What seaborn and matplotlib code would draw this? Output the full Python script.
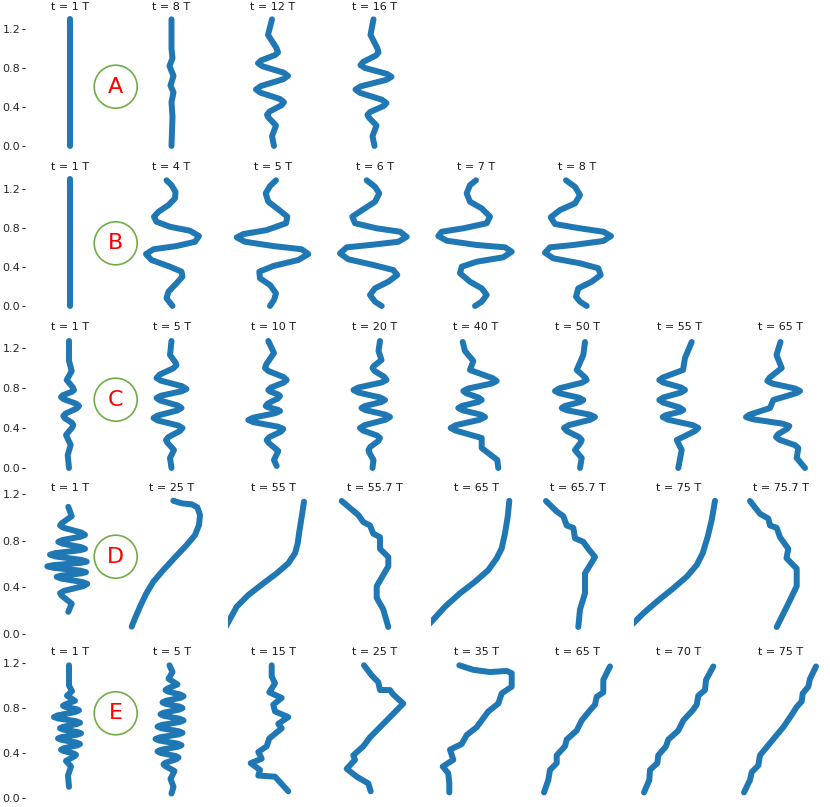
import numpy as np
import seaborn as sns
import matplotlib.pyplot as plt
from matplotlib.patches import Circle

###############################################################
#----------------------------Data------------------------------#
###############################################################
# x = lateral displacement, y = height; one list per snapshot

a_titles = ["t = 1 T", "t = 8 T", "t = 12 T", "t = 16 T"]
a_x = [
    [0.0, 0.0],
    [0.0, 0.0, 0.01, -0.02, 0.02, -0.01, 0.02, 0.0, 0.01, 0.0],
    [-0.01, -0.05, 0.035, 0.05, 0.02, -0.12, -0.15, -0.105, 0.105, 0.15, 0.102, -0.122,
     -0.17, -0.128, 0.068, 0.11, 0.085, -0.035, -0.06, -0.047, 0.03, -0.01, 0.01],
    [-0.01, -0.04, 0.028, 0.04, 0.013, -0.113, -0.14, -0.094, 0.124, 0.17, 0.116, -0.136,
     -0.19, -0.144, 0.074, 0.12, 0.092, -0.042, -0.07, -0.057, 0.02, -0.02, 0.0],
]
a_y = [
    [1.3, 0.0],
    [1.3, 1.0, 0.9, 0.82, 0.72, 0.62, 0.55, 0.45, 0.3, 0.0],
    [1.30, 1.14, 1.005, 0.96, 0.933, 0.878, 0.85, 0.818, 0.753, 0.72, 0.685, 0.615,
     0.58, 0.548, 0.483, 0.45, 0.418, 0.353, 0.32, 0.293, 0.21, 0.10, 0.0],
    [1.30, 1.14, 1.005, 0.96, 0.928, 0.863, 0.83, 0.80, 0.74, 0.71, 0.678, 0.613,
     0.58, 0.545, 0.475, 0.44, 0.41, 0.35, 0.32, 0.293, 0.21, 0.10, 0.0],
]

b_titles = ["t = 1 T", "t = 4 T", "t = 5 T", "t = 6 T", "t = 7 T", "t = 8 T"]
b_x = [
    [0.0, 0.0],
    [-0.05, 0.0, 0.04, 0.035, -0.03, -0.13, -0.175, -0.15, -0.015, 0.185, 0.275, 0.235,
     0.05, -0.18, -0.255, -0.2, -0.015, 0.10, 0.11, 0.05, -0.03, -0.05, 0.01],
    [0.03, -0.03, -0.073, -0.047, 0.053, 0.143, 0.13, -0.063, -0.297, -0.363, -0.28,
     0.003, 0.287, 0.353, 0.253, 0.003, -0.137, -0.13, -0.03, 0.03, 0.01, -0.03],
    [-0.078, 0.005, 0.048, 0.005, -0.112, -0.222, -0.195, 0.022, 0.255, 0.322, 0.238,
     -0.045, -0.278, -0.345, -0.262, -0.012, 0.188, 0.228, 0.138, 0.005, -0.045, 0.005, 0.072],
    [0.0, -0.06, -0.093, -0.06, 0.057, 0.14, 0.107, -0.127, -0.343, -0.377, -0.293,
     0.007, 0.29, 0.357, 0.273, 0.007, -0.143, -0.16, -0.06, 0.057, 0.107, 0.057, -0.01],
    [-0.115, -0.025, 0.025, -0.025, -0.175, -0.268, -0.225, 0.025, 0.258, 0.335, 0.258,
     -0.042, -0.275, -0.325, -0.242, 0.025, 0.208, 0.232, 0.142, 0.008, -0.015, 0.025, 0.092],
]
b_y = [
    [1.3, 0.0],
    [1.29, 1.24, 1.17, 1.105, 1.036, 0.967, 0.916, 0.865, 0.813, 0.772, 0.718, 0.659,
     0.615, 0.582, 0.533, 0.472, 0.403, 0.352, 0.301, 0.233, 0.147, 0.079, 0.0],
    [1.29, 1.231, 1.156, 1.07, 0.992, 0.917, 0.849, 0.779, 0.738, 0.704, 0.659,
     0.615, 0.582, 0.533, 0.472, 0.41, 0.352, 0.284, 0.215, 0.13, 0.062, 0.0],
    [1.29, 1.223, 1.156, 1.07, 0.992, 0.917, 0.849, 0.797, 0.762, 0.71, 0.659,
     0.626, 0.602, 0.54, 0.479, 0.421, 0.369, 0.318, 0.249, 0.181, 0.113, 0.044, 0.0],
    [1.29, 1.241, 1.156, 1.07, 1.002, 0.917, 0.849, 0.797, 0.762, 0.718, 0.67,
     0.626, 0.602, 0.557, 0.5, 0.454, 0.403, 0.336, 0.249, 0.181, 0.113, 0.044, 0.0],
    [1.29, 1.223, 1.138, 1.053, 0.985, 0.91, 0.841, 0.797, 0.762, 0.718, 0.667,
     0.626, 0.602, 0.547, 0.489, 0.438, 0.387, 0.318, 0.249, 0.181, 0.095, 0.044, 0.0],
]

c_titles = ["t = 1 T", "t = 5 T", "t = 10 T", "t = 20 T",
            "t = 40 T", "t = 50 T", "t = 55 T", "t = 65 T"]
c_x = [
    [-0.01, -0.01, 0.017, -0.033, 0.029, 0.04, 0.021, -0.071, -0.09, -0.063, 0.063, 0.09,
     0.067, -0.044, -0.067, -0.052, 0.018, 0.033, 0.022, -0.04, 0.007, -0.023, -0.01],
    [0.0, -0.015, 0.04, 0.05, 0.02, -0.12, -0.15, -0.105, 0.105, 0.15, 0.105, -0.105, -0.15,
     -0.113, 0.063, 0.10, 0.058, -0.138, -0.18, -0.137, 0.067, 0.11, 0.085, -0.03, -0.055,
     -0.043, 0.025, -0.015, 0.0],
    [-0.047, 0.01, -0.067, -0.08, -0.047, 0.104, 0.137, 0.109, -0.019, -0.047, -0.029, 0.052,
     0.07, 0.049, -0.052, -0.073, -0.052, 0.049, 0.07, 0.022, -0.199, -0.247, -0.195, 0.051,
     0.103, 0.078, -0.038, -0.063, -0.046, 0.053, 0.01, 0.037],
    [0.055, 0.04, 0.07, -0.007, -0.02, 0.001, 0.099, 0.12, 0.071, -0.161, -0.21, -0.163, 0.058,
     0.105, 0.07, -0.095, -0.13, -0.087, 0.112, 0.155, 0.11, -0.10, -0.145, -0.115, 0.025,
     0.055, 0.038, -0.043, -0.06, -0.053, -0.01, -0.02],
    [-0.133, -0.11, -0.027, -0.06, 0.167, 0.207, 0.157, -0.077, -0.127, -0.099, 0.029, 0.057,
     0.022, -0.142, -0.177, -0.137, 0.05, 0.09, 0.039, -0.202, -0.253, -0.207, 0.057, 0.057,
     0.213, 0.223],
    [0.075, 0.058, -0.008, 0.077, 0.092, 0.045, -0.178, -0.225, -0.183, 0.016, 0.058, 0.026,
     -0.126, -0.158, -0.108, 0.125, 0.175, 0.129, -0.089, -0.135, -0.108, 0.015, 0.042, 0.032,
     -0.025, 0.042, 0.025],
    [0.127, 0.06, 0.04, -0.161, -0.197, -0.158, 0.021, 0.06, 0.021, -0.158, -0.197, -0.161,
     0.007, 0.043, 0.012, -0.132, -0.163, -0.11, 0.14, 0.193, 0.161, -0.023, 0.027, -0.007],
    [0.0, -0.04, 0.012, -0.11, -0.132, -0.083, 0.146, 0.195, 0.155, -0.072, -0.105, -0.309,
     -0.345, -0.28, 0.023, 0.088, 0.068, -0.025, -0.045, -0.012, 0.145, 0.178, 0.162, 0.245],
]
c_y = [
    [1.27, 1.07, 0.97, 0.88, 0.805, 0.78, 0.763, 0.728, 0.71, 0.688, 0.643, 0.62,
     0.595, 0.545, 0.52, 0.498, 0.453, 0.43, 0.405, 0.33, 0.23, 0.13, 0.0],
    [1.27, 1.13, 1.055, 1.03, 0.998, 0.933, 0.90, 0.873, 0.818, 0.79, 0.768, 0.723, 0.70,
     0.675, 0.625, 0.60, 0.575, 0.525, 0.50, 0.475, 0.425, 0.40, 0.37, 0.31, 0.28,
     0.255, 0.18, 0.10, 0.0],
    [1.27, 1.15, 1.038, 1.00, 0.97, 0.91, 0.88, 0.855, 0.805, 0.78, 0.765, 0.735,
     0.72, 0.695, 0.645, 0.62, 0.608, 0.583, 0.57, 0.548, 0.503, 0.48, 0.458, 0.413,
     0.39, 0.363, 0.308, 0.28, 0.253, 0.17, 0.08, 0.02],
    [1.27, 1.17, 1.08, 1.02, 1.00, 0.97, 0.91, 0.88, 0.855, 0.805, 0.78, 0.755, 0.705,
     0.68, 0.66, 0.62, 0.60, 0.578, 0.533, 0.51, 0.483, 0.428, 0.40, 0.375, 0.325,
     0.30, 0.27, 0.21, 0.18, 0.155, 0.08, 0.0],
    [1.26, 1.17, 1.07, 0.98, 0.898, 0.87, 0.845, 0.795, 0.77, 0.748, 0.703, 0.68,
     0.66, 0.62, 0.60, 0.578, 0.533, 0.51, 0.483, 0.428, 0.40, 0.375, 0.30, 0.20,
     0.08, 0.0],
    [1.26, 1.13, 0.98, 0.905, 0.88, 0.853, 0.798, 0.77, 0.748, 0.703, 0.68, 0.66,
     0.62, 0.60, 0.578, 0.533, 0.51, 0.483, 0.428, 0.40, 0.37, 0.31, 0.28, 0.255,
     0.18, 0.10, 0.0],
    [1.26, 1.10, 0.98, 0.905, 0.88, 0.855, 0.805, 0.78, 0.755, 0.705, 0.68, 0.655,
     0.605, 0.58, 0.563, 0.528, 0.51, 0.483, 0.428, 0.40, 0.37, 0.28, 0.18, 0.0],
    [1.26, 1.13, 1.00, 0.903, 0.87, 0.845, 0.795, 0.77, 0.748, 0.68, 0.60, 0.533,
     0.51, 0.488, 0.443, 0.42, 0.393, 0.338, 0.31, 0.283, 0.228, 0.20, 0.10, 0.0],
]

d_titles = ["t = 1 T", "t = 25 T", "t = 55 T", "t = 55.7 T",
            "t = 65 T", "t = 65.7 T", "t = 75 T", "t = 75.7 T"]
d_x = [
    [-0.017, 0.017, -0.082, -0.10, -0.063, 0.113, 0.15, 0.11, -0.077, -0.117, -0.077, 0.11,
     0.15, 0.098, -0.148, -0.20, -0.145, 0.112, 0.167, 0.108, -0.168, -0.227, -0.169, 0.102,
     0.16, 0.116, -0.089, -0.133, -0.087, 0.127, 0.173, 0.132, -0.059, -0.10, -0.083, 0.017,
     -0.017],
    [0.018, 0.102, 0.202, 0.258, 0.285, 0.275, 0.235, 0.152, 0.035, -0.082, -0.182, -0.255, -0.315, -0.365, -0.398],
    [0.31, 0.287, 0.263, 0.247, 0.22, 0.153, 0.037, -0.097, -0.247, -0.363, -0.463, -0.50],
    [-0.328, -0.162, -0.112, -0.045, -0.012, 0.055, 0.055, 0.138, 0.138, 0.022, 0.022, 0.088, 0.138],
    [0.333, 0.317, 0.29, 0.257, 0.207, 0.123, -0.01, -0.16, -0.31, -0.46, -0.52],
    [-0.315, -0.208, -0.142, -0.108, -0.042, -0.025, 0.058, 0.108, 0.175, 0.075, 0.075, 0.025, 0.008],
    [0.36, 0.327, 0.287, 0.237, 0.177, 0.077, -0.057, -0.223, -0.357, -0.457, -0.52],
    [-0.305, -0.205, -0.122, -0.105, -0.038, -0.005, 0.078, 0.06, 0.162, 0.162, 0.078, -0.038],
]
d_y = [
    [1.09, 1.01, 0.95, 0.93, 0.91, 0.87, 0.85, 0.835, 0.805, 0.79, 0.775, 0.745,
     0.73, 0.718, 0.693, 0.68, 0.665, 0.635, 0.62, 0.61, 0.59, 0.58, 0.568, 0.543,
     0.53, 0.52, 0.50, 0.49, 0.475, 0.445, 0.43, 0.41, 0.37, 0.35, 0.328, 0.26, 0.19],
    [1.142, 1.12, 1.111, 1.086, 1.02, 0.934, 0.848, 0.763, 0.657, 0.548, 0.448, 0.343, 0.234, 0.135, 0.063],
    [1.134, 1.005, 0.877, 0.777, 0.692, 0.606, 0.52, 0.434, 0.334, 0.234, 0.077, 0.02],
    [1.14, 1.02, 0.96, 0.93, 0.86, 0.83, 0.73, 0.66, 0.58, 0.41, 0.31, 0.21, 0.06],
    [1.142, 1.005, 0.863, 0.734, 0.649, 0.548, 0.448, 0.349, 0.234, 0.092, 0.04],
    [1.14, 1.05, 1.01, 0.93, 0.91, 0.82, 0.79, 0.73, 0.66, 0.52, 0.35, 0.21, 0.06],
    [1.142, 0.977, 0.834, 0.692, 0.591, 0.491, 0.392, 0.277, 0.177, 0.092, 0.04],
    [1.14, 1.03, 0.99, 0.93, 0.91, 0.83, 0.73, 0.65, 0.56, 0.41, 0.26, 0.06],
]

e_titles = ["t = 1 T", "t = 5 T", "t = 15 T", "t = 25 T",
            "t = 35 T", "t = 65 T", "t = 70 T", "t = 75 T"]
e_x = [
    [-0.01, -0.01, 0.02, -0.03, 0.05, -0.052, -0.07, -0.046, 0.066, 0.09, 0.053, -0.123,
     -0.16, -0.121, 0.061, 0.10, 0.07, -0.07, -0.10, -0.069, 0.079, 0.11, 0.076, -0.086,
     -0.12, -0.087, 0.067, 0.10, 0.072, -0.062, -0.09, -0.068, 0.038, 0.06, 0.045, -0.04,
     0.01, -0.02, -0.01],
    [-0.02, 0.01, -0.03, 0.06, -0.042, -0.06, -0.033, 0.093, 0.12, 0.089, -0.059, -0.09,
     -0.06, 0.08, 0.11, 0.077, -0.077, -0.11, -0.076, 0.086, 0.12, 0.081, -0.101, -0.14,
     -0.103, 0.073, 0.11, 0.07, -0.12, -0.16, -0.121, 0.061, 0.10, 0.064, -0.104, -0.14,
     -0.109, 0.039, 0.07, 0.048, -0.058, -0.08, -0.064, 0.03, -0.01, 0.02, 0.0],
    [-0.013, -0.013, 0.02, -0.037, 0.087, 0.003, 0.02, 0.153, 0.053, 0.087, -0.037, -0.063, -0.147, -0.113, -0.223, -0.13, -0.147, 0.02, 0.153],
    [-0.105, -0.028, 0.038, 0.055, 0.155, 0.188, 0.288, 0.155, 0.055, -0.045, -0.112, -0.212, -0.195, -0.278, -0.178, -0.062, -0.038],
    [-0.267, -0.267, -0.277, -0.333, -0.227, -0.26, -0.143, -0.093, 0.007, 0.123, 0.223, 0.257, 0.357, 0.357, 0.307, 0.14, -0.027, -0.167],
    [-0.335, -0.292, -0.275, -0.208, -0.208, -0.125, -0.108, -0.008, 0.042, 0.125, 0.175, 0.192, 0.258, 0.258, 0.325],
    [-0.35, -0.297, -0.29, -0.217, -0.207, -0.13, -0.107, -0.007, 0.043, 0.137, 0.177, 0.193, 0.26, 0.27, 0.343],
    [-0.365, -0.305, -0.288, -0.222, -0.205, -0.122, -0.038, 0.028, 0.112, 0.162, 0.212, 0.222, 0.278, 0.295, 0.355],
]
e_y = [
    [1.18, 1.00, 0.95, 0.91, 0.865, 0.831, 0.82, 0.81, 0.79, 0.78, 0.765, 0.735,
     0.72, 0.708, 0.683, 0.67, 0.658, 0.633, 0.62, 0.609, 0.586, 0.575, 0.564, 0.541,
     0.53, 0.518, 0.493, 0.48, 0.468, 0.443, 0.43, 0.419, 0.396, 0.385, 0.371, 0.33,
     0.28, 0.20, 0.10],
    [1.18, 1.12, 1.06, 1.01, 0.973, 0.96, 0.946, 0.919, 0.905, 0.891, 0.864, 0.85,
     0.838, 0.813, 0.80, 0.786, 0.759, 0.745, 0.731, 0.704, 0.69, 0.676, 0.649, 0.635,
     0.621, 0.594, 0.58, 0.566, 0.539, 0.525, 0.511, 0.484, 0.47, 0.456, 0.429, 0.415,
     0.401, 0.374, 0.36, 0.345, 0.315, 0.30, 0.285, 0.24, 0.17, 0.10, 0.04],
    [1.18, 1.08, 1.02, 0.94, 0.89, 0.83, 0.77, 0.72, 0.66, 0.62, 0.53, 0.46, 0.41, 0.35, 0.31, 0.25, 0.20, 0.19, 0.06],
    [1.18, 1.09, 1.03, 0.96, 0.96, 0.92, 0.84, 0.72, 0.63, 0.54, 0.46, 0.38, 0.34, 0.26, 0.19, 0.13, 0.06],
    [0.05, 0.13, 0.22, 0.28, 0.34, 0.43, 0.48, 0.56, 0.63, 0.77, 0.84, 0.93, 0.99, 1.11, 1.13, 1.12, 1.14, 1.18],
    [0.05, 0.16, 0.25, 0.31, 0.38, 0.46, 0.52, 0.60, 0.69, 0.78, 0.83, 0.90, 0.94, 1.05, 1.17],
    [0.05, 0.16, 0.25, 0.31, 0.38, 0.46, 0.52, 0.60, 0.69, 0.78, 0.83, 0.91, 0.96, 1.05, 1.17],
    [0.05, 0.16, 0.23, 0.29, 0.38, 0.47, 0.56, 0.63, 0.74, 0.81, 0.86, 0.93, 0.99, 1.06, 1.17],
]

row_letters = ["A", "B", "C", "D", "E"]

###############################################################
#---------------------------Layout-----------------------------#
###############################################################
W, H = 830, 807
sns.set_style("white")
fig = plt.figure(figsize=(W / 100, H / 100), dpi=100)

# (titles, xs, ys, ylim, axes top px, axes bottom px, circle centre y px)
rows = [
    (a_titles, a_x, a_y, (-0.065, 1.365), 13, 152.3, 86.7),
    (b_titles, b_x, b_y, (-0.065, 1.365), 173, 312.3, 243.3),
    (c_titles, c_x, c_y, (-0.05, 1.35), 333, 473, 399.7),
    (d_titles, d_x, d_y, (-0.03, 1.2), 494, 637.5, 556.7),
    (e_titles, e_x, e_y, (-0.02, 1.245), 658, 800.3, 713.3),
]

blue = "#1f77b4"
for (titles, xs, ys, ylim, top, bot, cy), letter in zip(rows, row_letters):
    for j, (title, x, y) in enumerate(zip(titles, xs, ys)):
        left = 25 + 101.5 * j
        ax = fig.add_axes([left / W, 1 - bot / H, 90 / W, (bot - top) / H])
        sns.lineplot(x=np.array(x), y=np.array(y), sort=False, estimator=None,
                     color=blue, linewidth=4.3, ax=ax,
                     solid_capstyle="round", solid_joinstyle="round")
        ax.set_xlim(-0.45, 0.45)
        ax.set_ylim(*ylim)
        ax.set_xticks([])
        ax.set_xlabel("")
        ax.set_ylabel("")
        ax.set_title(title, fontsize=8, pad=2, color="0.1")
        sns.despine(ax=ax, left=True, bottom=True)
        if j == 0:
            ax.set_yticks([0.0, 0.4, 0.8, 1.2])
            ax.set_yticklabels(["0.0", "0.4", "0.8", "1.2"])
            ax.tick_params(axis="y", left=True, length=2, width=0.8,
                           pad=1.5, labelsize=8, colors="0.15")
        else:
            ax.set_yticks([])

    # circled row label
    cx = 115.7
    fig.add_artist(Circle((cx / 100, (H - cy) / 100), 0.215,
                          transform=fig.dpi_scale_trans, fill=False,
                          ec="#70ad47", lw=1.2))
    fig.text(cx / W, 1 - cy / H, letter, color="red", fontsize=16,
             ha="center", va="center")

fig.savefig("out.png", dpi=100)
